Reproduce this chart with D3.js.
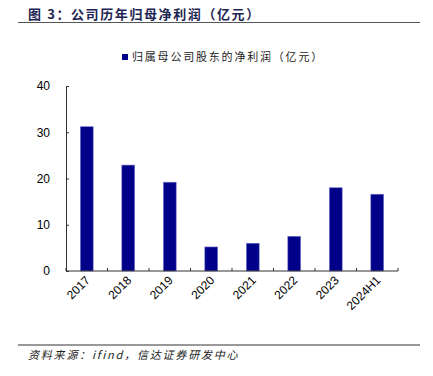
<!DOCTYPE html>
<html>
<head>
<meta charset="utf-8">
<script src="https://cdn.jsdelivr.net/npm/d3@7"></script>
<style>
  body { margin: 0; background: #fff; }
  svg { display: block; }
</style>
</head>
<body>
<svg id="svg" width="433" height="376"></svg>
<script>
// chart data
let years = ["2017", "2018", "2019", "2020", "2021", "2022", "2023", "2024H1"];
let profit = [31.2, 22.9, 19.2, 5.2, 6.0, 7.5, 18.0, 16.6];
let yTicks = [0, 10, 20, 30, 40];

let titleText = "图 3：公司历年归母净利润（亿元）";
let legendText = "归属母公司股东的净利润（亿元）";
let sourceText = "资料来源：ifind，信达证券研发中心";

let cjk = "'Noto Sans CJK SC', sans-serif";
let latin = "'Liberation Sans', Arial, sans-serif";

let svg = d3.select("#svg");

// plot area
let plot = { x1: 66, x2: 398, y1: 86, y2: 271 };

let x = d3.scaleBand()
  .domain(years)
  .range([plot.x1, plot.x2])
  .paddingInner(0.69)
  .paddingOuter(0.345);

let y = d3.scaleLinear()
  .domain([0, 40])
  .range([plot.y2, plot.y1]);

// title + rule
svg.append("text")
  .attr("x", 28).attr("y", 19)
  .attr("font-family", cjk)
  .attr("font-weight", "bold")
  .attr("font-size", 13)
  .attr("letter-spacing", 1.6)
  .attr("fill", "#1c2452")
  .text(titleText);

svg.append("line")
  .attr("x1", 18).attr("x2", 420)
  .attr("y1", 22.5).attr("y2", 22.5)
  .attr("stroke", "#555").attr("stroke-width", 1.2);

// legend
svg.append("rect")
  .attr("x", 122).attr("y", 54)
  .attr("width", 6).attr("height", 6)
  .attr("fill", "#000088");

svg.append("text")
  .attr("x", 132).attr("y", 61)
  .attr("font-family", cjk)
  .attr("font-size", 11)
  .attr("letter-spacing", 1.8)
  .attr("fill", "#222")
  .text(legendText);

// bars
svg.append("g")
  .selectAll("rect")
  .data(years)
  .enter()
  .append("rect")
  .attr("x", d => x(d))
  .attr("width", x.bandwidth())
  .attr("y", (d, i) => y(profit[i]))
  .attr("height", (d, i) => y(0) - y(profit[i]))
  .attr("fill", "#000088")
  .attr("stroke", "#7777cc")
  .attr("stroke-width", 0.6);

// y axis
let yAxis = svg.append("g")
  .attr("transform", `translate(${plot.x1},0)`)
  .call(d3.axisRight(y).tickValues(yTicks).tickSize(3).tickFormat(d3.format("d")));
yAxis.select(".domain").attr("stroke", "#333");
yAxis.selectAll(".tick line").attr("stroke", "#333");
yAxis.selectAll("text")
  .attr("x", -16)
  .attr("text-anchor", "end")
  .attr("font-family", latin)
  .attr("font-size", 12)
  .attr("fill", "#000");

// x axis with ticks between categories
let bounds = years.map(d => x(d) - x.step() * x.paddingInner() / 2).concat([plot.x2]);
let xg = svg.append("g");
xg.append("line")
  .attr("x1", plot.x1).attr("x2", plot.x2)
  .attr("y1", plot.y2).attr("y2", plot.y2)
  .attr("stroke", "#333").attr("stroke-width", 1.2);
xg.selectAll(".tk")
  .data(bounds)
  .enter()
  .append("line")
  .attr("x1", d => d).attr("x2", d => d)
  .attr("y1", plot.y2).attr("y2", plot.y2 - 3)
  .attr("stroke", "#333");

xg.selectAll("text")
  .data(years)
  .enter()
  .append("text")
  .attr("transform", d => `translate(${x(d) + x.bandwidth() / 2 + 4},${plot.y2 + 10}) rotate(-45)`)
  .attr("text-anchor", "end")
  .attr("font-family", latin)
  .attr("font-size", 12)
  .attr("fill", "#000")
  .text(d => d);

// source footer
svg.append("line")
  .attr("x1", 18).attr("x2", 420)
  .attr("y1", 345).attr("y2", 345)
  .attr("stroke", "#333").attr("stroke-width", 1);

svg.append("text")
  .attr("x", 28).attr("y", 359)
  .attr("font-family", cjk)
  .attr("font-style", "italic")
  .attr("font-size", 11)
  .attr("letter-spacing", 1.8)
  .attr("fill", "#222")
  .text(sourceText);
</script>
</body>
</html>
